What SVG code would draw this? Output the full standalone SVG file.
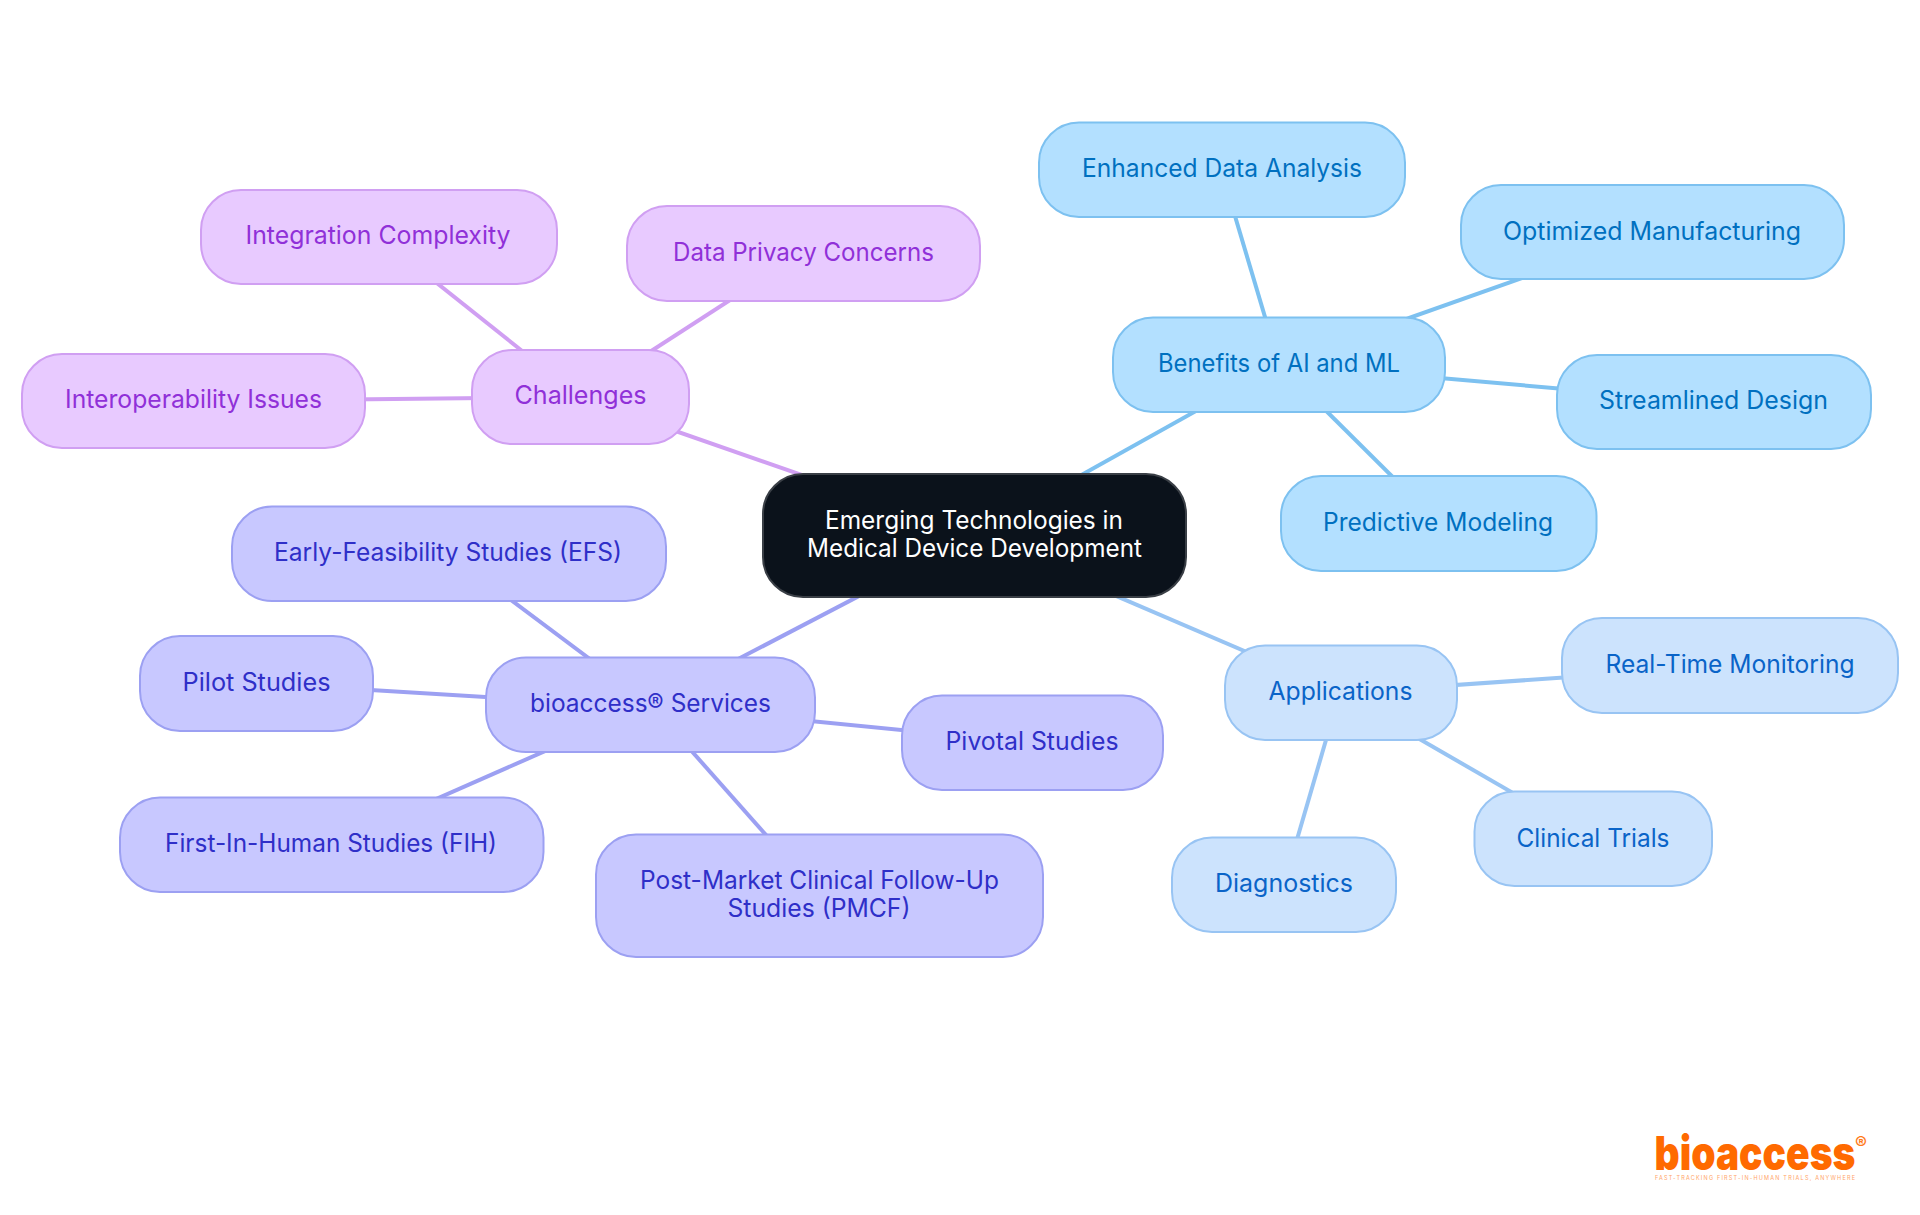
<svg xmlns="http://www.w3.org/2000/svg" width="1920" height="1215" viewBox="0 0 1920 1215">
<style>
text{font-family:"Inter","Noto Sans","Liberation Sans",sans-serif;font-size:25px;text-anchor:middle;font-weight:400}
rect{stroke-width:2}
#connectors line{stroke-width:4;fill:none}
.b rect{fill:#b3e0ff;stroke:#7dc1f0}.b text{fill:#0070c0}
.a rect{fill:#cce3fd;stroke:#98c4f3}.a text{fill:#0a64c8}
.s rect{fill:#c8c8ff;stroke:#9ca0f2}.s text{fill:#2f2fc8}
.c rect{fill:#e8caff;stroke:#d09ff2}.c text{fill:#9030d8}
.lb{stroke:#7dc1f0}.la{stroke:#98c4f3}.ls{stroke:#9ca0f2}.lc{stroke:#d09ff2}
</style>
<rect width="1920" height="1215" fill="#fff" stroke="none"/>
<g id="connectors">
<line class="lb" x1="974" y1="535" x2="1280" y2="364"/>
<line class="la" x1="974" y1="535" x2="1340" y2="692"/>
<line class="ls" x1="976" y1="535" x2="652" y2="704"/>
<line class="lc" x1="974" y1="535" x2="578" y2="397"/>
<line class="lb" x1="1279" y1="364" x2="1221" y2="169"/>
<line class="lb" x1="1279" y1="364" x2="1652" y2="232"/>
<line class="lb" x1="1279" y1="364" x2="1714" y2="402"/>
<line class="lb" x1="1279" y1="364" x2="1439" y2="523"/>
<line class="la" x1="1340" y1="693" x2="1730" y2="666"/>
<line class="la" x1="1338" y1="692" x2="1591" y2="838"/>
<line class="la" x1="1340" y1="692" x2="1284" y2="884"/>
<line class="ls" x1="650" y1="704" x2="448" y2="553"/>
<line class="ls" x1="650" y1="707" x2="256" y2="683"/>
<line class="ls" x1="652" y1="704" x2="334" y2="844"/>
<line class="ls" x1="650" y1="704" x2="819" y2="895"/>
<line class="ls" x1="650" y1="705" x2="1032" y2="743"/>
<line class="lc" x1="580" y1="397" x2="194" y2="401"/>
<line class="lc" x1="580" y1="397" x2="379" y2="237"/>
<line class="lc" x1="580" y1="397" x2="803" y2="253"/>
</g>
<g id="central"><rect x="763" y="474" width="423" height="123" rx="40" fill="#0b121b" stroke="#3a3f46"/>
<text x="974" y="528.500" fill="#fff" textLength="298" lengthAdjust="spacingAndGlyphs">Emerging Technologies in</text><text x="974.500" y="556.500" fill="#fff" textLength="335" lengthAdjust="spacingAndGlyphs">Medical Device Development</text></g>
<g id="benefits" class="b"><rect x="1113" y="317.500" width="332" height="94.500" rx="40"/><text x="1279" y="372" textLength="242" lengthAdjust="spacingAndGlyphs">Benefits of AI and ML</text></g>
<g id="enhanced" class="b"><rect x="1039" y="122.500" width="366" height="94.500" rx="40"/><text x="1222" y="177" textLength="280" lengthAdjust="spacingAndGlyphs">Enhanced Data Analysis</text></g>
<g id="optimized" class="b"><rect x="1461" y="185" width="383" height="94" rx="40"/><text x="1652" y="239.500" textLength="298" lengthAdjust="spacingAndGlyphs">Optimized Manufacturing</text></g>
<g id="streamlined" class="b"><rect x="1557" y="355" width="314" height="94" rx="40"/><text x="1713.500" y="409" textLength="229" lengthAdjust="spacingAndGlyphs">Streamlined Design</text></g>
<g id="predictive" class="b"><rect x="1281" y="476" width="315.500" height="95" rx="40"/><text x="1438" y="531" textLength="230" lengthAdjust="spacingAndGlyphs">Predictive Modeling</text></g>
<g id="applications" class="a"><rect x="1225" y="645.500" width="232" height="94.500" rx="40"/><text x="1340.500" y="700" textLength="144" lengthAdjust="spacingAndGlyphs">Applications</text></g>
<g id="realtime" class="a"><rect x="1562" y="618" width="336" height="95" rx="40"/><text x="1730" y="673" textLength="249" lengthAdjust="spacingAndGlyphs">Real-Time Monitoring</text></g>
<g id="clinical" class="a"><rect x="1474.500" y="791.500" width="237.500" height="94.500" rx="40"/><text x="1593" y="846.500" textLength="153" lengthAdjust="spacingAndGlyphs">Clinical Trials</text></g>
<g id="diagnostics" class="a"><rect x="1172" y="837.500" width="224" height="94.500" rx="40"/><text x="1284" y="892" textLength="138" lengthAdjust="spacingAndGlyphs">Diagnostics</text></g>
<g id="services" class="s"><rect x="486" y="657.500" width="329" height="94.500" rx="40"/><text x="650.500" y="712" textLength="241" lengthAdjust="spacingAndGlyphs">bioaccess® Services</text></g>
<g id="efs" class="s"><rect x="232" y="506.500" width="434" height="94.500" rx="40"/><text x="448" y="561" textLength="348" lengthAdjust="spacingAndGlyphs">Early-Feasibility Studies (EFS)</text></g>
<g id="pilot" class="s"><rect x="140" y="636" width="233" height="95" rx="40"/><text x="256.500" y="691" textLength="148" lengthAdjust="spacingAndGlyphs">Pilot Studies</text></g>
<g id="fih" class="s"><rect x="120" y="797.500" width="423.500" height="94.500" rx="40"/><text x="331" y="852" textLength="332" lengthAdjust="spacingAndGlyphs">First-In-Human Studies (FIH)</text></g>
<g id="pmcf" class="s"><rect x="596" y="834.500" width="447" height="122.500" rx="40"/><text x="819.500" y="888.500" textLength="359" lengthAdjust="spacingAndGlyphs">Post-Market Clinical Follow-Up</text><text x="819" y="916.500" textLength="183" lengthAdjust="spacingAndGlyphs">Studies (PMCF)</text></g>
<g id="pivotal" class="s"><rect x="902" y="695.500" width="261" height="94.500" rx="40"/><text x="1032" y="750" textLength="173" lengthAdjust="spacingAndGlyphs">Pivotal Studies</text></g>
<g id="challenges" class="c"><rect x="472" y="350" width="217" height="94" rx="40"/><text x="580.500" y="404" textLength="132" lengthAdjust="spacingAndGlyphs">Challenges</text></g>
<g id="interop" class="c"><rect x="22" y="354" width="343" height="94" rx="40"/><text x="193.500" y="408" textLength="257" lengthAdjust="spacingAndGlyphs">Interoperability Issues</text></g>
<g id="integration" class="c"><rect x="201" y="190" width="356" height="94" rx="40"/><text x="378" y="244" textLength="265" lengthAdjust="spacingAndGlyphs">Integration Complexity</text></g>
<g id="privacy" class="c"><rect x="627" y="206" width="353" height="95" rx="40"/><text x="803.500" y="260.500" textLength="261" lengthAdjust="spacingAndGlyphs">Data Privacy Concerns</text></g>
<g id="logo">
<text x="1755" y="1169.500" style="font-size:47px;font-weight:900;fill:#ff6a00" textLength="201" lengthAdjust="spacingAndGlyphs">bioaccess</text>
<text x="1861" y="1149" style="font-size:18px;font-weight:700;fill:#ff7a1a">®</text>
<text x="1755" y="1180" style="font-size:5.500px;font-weight:400;fill:#ffa468" textLength="200">FAST-TRACKING FIRST-IN-HUMAN TRIALS, ANYWHERE</text>
</g>
</svg>
